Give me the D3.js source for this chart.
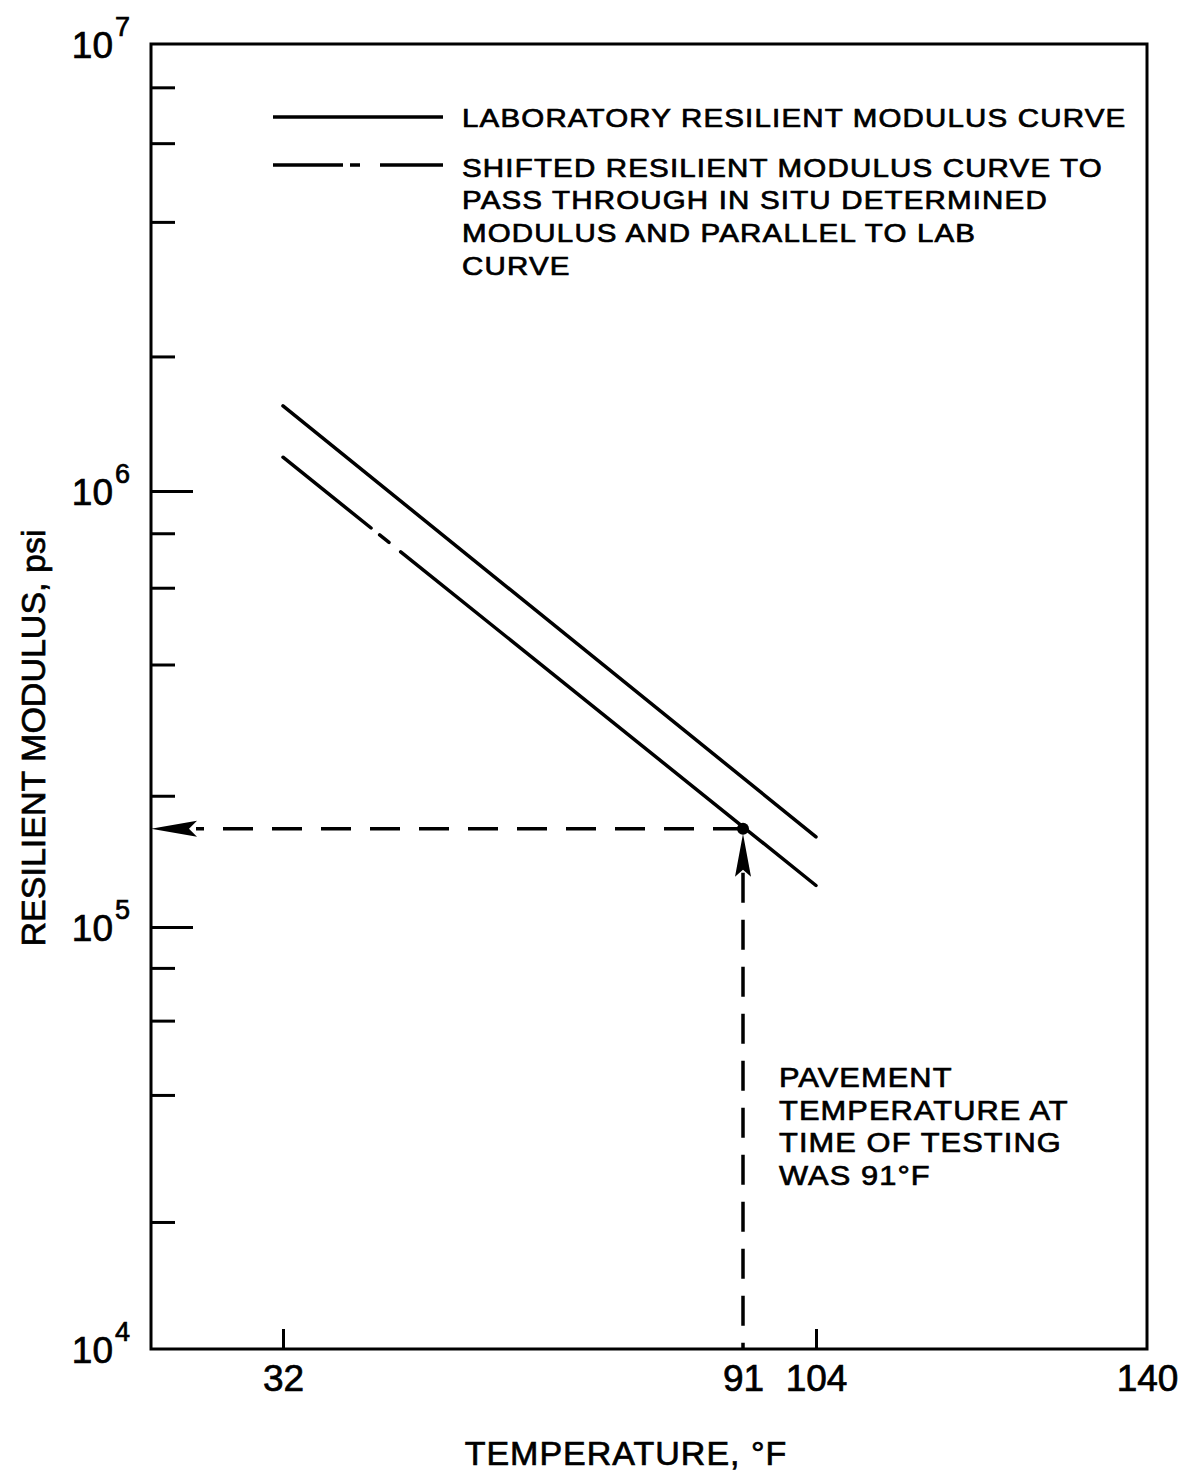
<!DOCTYPE html>
<html>
<head>
<meta charset="utf-8">
<script src="https://cdn.jsdelivr.net/npm/d3@7"></script>
<style>
  body { margin: 0; background: #fff; }
  text { font-family: "Liberation Sans", Arial, sans-serif; fill: #000; stroke: #000; stroke-width: 0.7px; }
</style>
</head>
<body>
<div id="chart"></div>
<script>
// data
var tempTicks = [32, 91, 104, 140];
var tempMarks = [32, 104];
var labTemp = [32, 104];
var labModulus = [1.55e6, 1.61e5];
var shiftTemp = [32, 104];
var shiftModulus = [1.19e6, 1.245e5];
var testTemp = 91;
var testModulus = 1.68e5;
var decades = [1e4, 1e5, 1e6, 1e7];
var minorMult = [2, 4, 6, 8];

var legendLines = [
  ["LABORATORY RESILIENT MODULUS CURVE"],
  ["SHIFTED RESILIENT MODULUS CURVE TO",
   "PASS THROUGH IN SITU DETERMINED",
   "MODULUS AND PARALLEL TO LAB",
   "CURVE"]
];
var noteLines = ["PAVEMENT", "TEMPERATURE AT", "TIME OF TESTING", "WAS 91°F"];

var W = 1193, H = 1480;

var svg = d3.select("#chart").append("svg")
  .attr("width", W)
  .attr("height", H);

svg.append("rect").attr("width", W).attr("height", H).attr("fill", "#fff");

// hand drawn axes are not quite even, so piecewise scales
var x = d3.scaleLinear()
  .domain([15, 32, 91, 104, 140])
  .range([151, 283, 743, 816, 1147]);

var y = d3.scaleLog()
  .domain([1e4, 1e5, 1e6, 1e7])
  .range([1349, 927, 491, 44]);

var xLeft = x.range()[0], xRight = x.range()[4];
var yTop = y(1e7), yBottom = y(1e4);

// frame
svg.append("rect")
  .attr("x", xLeft)
  .attr("y", yTop)
  .attr("width", xRight - xLeft)
  .attr("height", yBottom - yTop)
  .attr("fill", "none")
  .attr("stroke", "#000")
  .attr("stroke-width", 3);

// minor y ticks
var minor = [];
decades.slice(0, 3).forEach(function(d) {
  minorMult.forEach(function(m) { minor.push(d * m); });
});

var yMinor = svg.append("g")
  .attr("transform", "translate(" + xLeft + ",0)")
  .call(d3.axisLeft(y).tickValues(minor).tickSizeInner(-24).tickSizeOuter(0).tickFormat(""));
var yMajor = svg.append("g")
  .attr("transform", "translate(" + xLeft + ",0)")
  .call(d3.axisLeft(y).tickValues([1e5, 1e6]).tickSizeInner(-42).tickSizeOuter(0).tickFormat(""));

var xMarks = svg.append("g")
  .attr("transform", "translate(0," + yBottom + ")")
  .call(d3.axisBottom(x).tickValues(tempMarks).tickSizeInner(-20).tickSizeOuter(0).tickFormat(""));

[yMinor, yMajor, xMarks].forEach(function(g) {
  g.select(".domain").remove();
  g.selectAll("line").attr("stroke", "#000").attr("stroke-width", 3);
});

// x tick labels
var xLabels = svg.append("g")
  .attr("transform", "translate(0," + yBottom + ")")
  .call(d3.axisBottom(x).tickValues(tempTicks).tickSize(0).tickPadding(16).tickFormat(d3.format("d")));
xLabels.select(".domain").remove();
xLabels.selectAll("text")
  .style("font-family", "'Liberation Sans', Arial, sans-serif")
  .style("font-size", "37px")
  .attr("fill", "#000");

// y tick labels, 10 with exponent
var yLab = svg.append("g");
decades.forEach(function(d) {
  yLab.append("text")
    .attr("x", 113)
    .attr("y", y(d) + 14)
    .attr("text-anchor", "end")
    .style("font-size", "37px")
    .text("10");
  yLab.append("text")
    .attr("x", 115)
    .attr("y", y(d) - 8)
    .style("font-size", "27px")
    .text(Math.round(Math.log10(d)));
});

// axis titles
svg.append("text")
  .attr("x", 626)
  .attr("y", 1465)
  .attr("text-anchor", "middle")
  .style("font-size", "34px")
  .style("letter-spacing", "1px")
  .text("TEMPERATURE, °F");

svg.append("text")
  .attr("transform", "translate(45,738) rotate(-90)")
  .attr("text-anchor", "middle")
  .style("font-size", "34px")
  .text("RESILIENT MODULUS, psi");

// curves
var line = d3.line()
  .x(function(d) { return x(d[0]); })
  .y(function(d) { return y(d[1]); });

svg.append("path")
  .datum(d3.zip(labTemp, labModulus))
  .attr("d", line)
  .attr("fill", "none")
  .attr("stroke", "#000")
  .attr("stroke-width", 3.5)
  .attr("stroke-linecap", "round");

svg.append("path")
  .datum(d3.zip(shiftTemp, shiftModulus))
  .attr("d", line)
  .attr("fill", "none")
  .attr("stroke", "#000")
  .attr("stroke-width", 3.5)
  .attr("stroke-linecap", "round")
  .attr("stroke-dasharray", "113,11,12,15,800");

// test point and the dashed read-off lines
var px = x(testTemp), py = y(testModulus);

svg.append("line")
  .attr("x1", px).attr("x2", xLeft + 45)
  .attr("y1", py).attr("y2", py)
  .attr("stroke", "#000")
  .attr("stroke-width", 3.5)
  .attr("stroke-dasharray", "30,19");

svg.append("path")
  .attr("d", "M" + xLeft + "," + py +
    "L" + (xLeft + 46) + "," + (py - 8) +
    "L" + (xLeft + 38) + "," + py +
    "L" + (xLeft + 46) + "," + (py + 8) + "Z")
  .attr("fill", "#000");

svg.append("line")
  .attr("x1", px).attr("x2", px)
  .attr("y1", py + 44).attr("y2", yBottom)
  .attr("stroke", "#000")
  .attr("stroke-width", 3.5)
  .attr("stroke-dasharray", "30,17");

svg.append("path")
  .attr("d", "M" + px + "," + (py + 5) +
    "L" + (px - 8) + "," + (py + 48) +
    "L" + px + "," + (py + 41) +
    "L" + (px + 8) + "," + (py + 48) + "Z")
  .attr("fill", "#000");

svg.append("circle")
  .attr("cx", px)
  .attr("cy", py)
  .attr("r", 6)
  .attr("fill", "#000");

// legend
var legend = svg.append("g");
legend.append("line")
  .attr("x1", 273).attr("x2", 443)
  .attr("y1", 117).attr("y2", 117)
  .attr("stroke", "#000").attr("stroke-width", 3.5);
legend.append("line")
  .attr("x1", 273).attr("x2", 443)
  .attr("y1", 165).attr("y2", 165)
  .attr("stroke", "#000").attr("stroke-width", 3.5)
  .attr("stroke-dasharray", "70,7,10,20,80");

// lettering is wider than Liberation, so stretch it a little
var legendY = [[127], [177, 209, 242, 275]];
legendLines.forEach(function(block, i) {
  block.forEach(function(t, j) {
    legend.append("text")
      .attr("transform", "translate(462," + legendY[i][j] + ") scale(1.18,1)")
      .style("font-size", "25px")
      .style("letter-spacing", "1px")
      .text(t);
  });
});

// note
noteLines.forEach(function(t, i) {
  svg.append("text")
    .attr("transform", "translate(779," + (1087 + i * 32.7) + ") scale(1.1,1)")
    .style("font-size", "28px")
    .style("letter-spacing", "1px")
    .text(t);
});
</script>
</body>
</html>
